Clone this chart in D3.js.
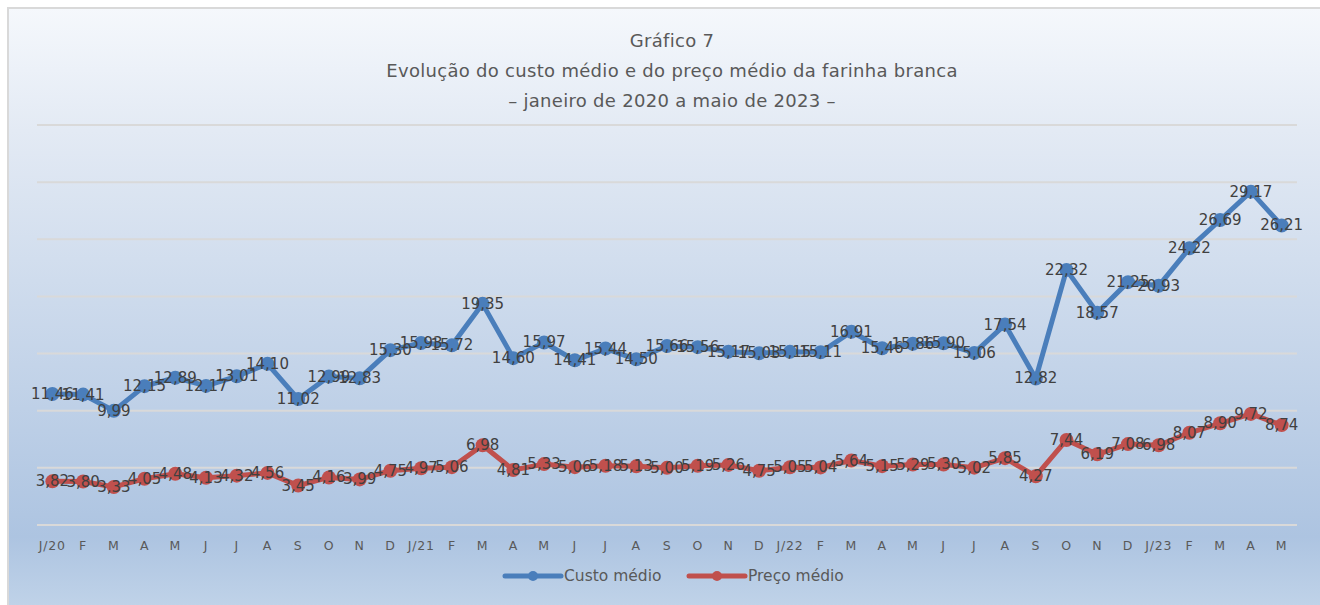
<!DOCTYPE html>
<html>
<head>
<meta charset="utf-8">
<script src="https://cdn.jsdelivr.net/npm/d3@7"></script>
<style>
  body { margin: 0; background: #fff; }
  svg { display: block; font-family: "DejaVu Sans", sans-serif; }
</style>
</head>
<body>
<div id="chart"></div>
<script>
// months Jan/2020 - May/2023
var months = ["J/20","F","M","A","M","J","J","A","S","O","N","D",
              "J/21","F","M","A","M","J","J","A","S","O","N","D",
              "J/22","F","M","A","M","J","J","A","S","O","N","D",
              "J/23","F","M","A","M"];

var custoMedio = [11.46,11.41,9.99,12.15,12.89,12.17,13.01,14.10,11.02,12.99,12.83,15.30,
                  15.93,15.72,19.35,14.60,15.97,14.41,15.44,14.50,15.66,15.56,15.17,15.03,
                  15.15,15.11,16.91,15.46,15.86,15.90,15.06,17.54,12.82,22.32,18.57,21.25,
                  20.93,24.22,26.69,29.17,26.21];

var precoMedio = [3.82,3.80,3.33,4.05,4.48,4.13,4.32,4.56,3.45,4.16,3.99,4.75,
                  4.97,5.06,6.98,4.81,5.33,5.06,5.18,5.13,5.00,5.19,5.26,4.75,
                  5.05,5.04,5.64,5.15,5.29,5.30,5.02,5.85,4.27,7.44,6.19,7.08,
                  6.98,8.07,8.90,9.72,8.74];

var gridTicks = [0,5,10,15,20,25,30,35];

var seriesNames = ["Custo médio","Preço médio"];
var seriesColors = ["#4a7ebb","#c0504d"];

var width = 1320, height = 605;

var svg = d3.select("#chart").append("svg")
  .attr("width", width)
  .attr("height", height);

// background gradient
var defs = svg.append("defs");
var grad = defs.append("linearGradient")
  .attr("id", "bg")
  .attr("x1", 0).attr("y1", 0).attr("x2", 0).attr("y2", 1);
grad.append("stop").attr("offset", "0%").attr("stop-color", "#f5f8fc");
grad.append("stop").attr("offset", "20%").attr("stop-color", "#e3eaf4");
grad.append("stop").attr("offset", "86%").attr("stop-color", "#adc4e1");
grad.append("stop").attr("offset", "100%").attr("stop-color", "#c4d6ea");

svg.append("rect")
  .attr("x", 8).attr("y", 8)
  .attr("width", width + 10).attr("height", height + 10)
  .attr("fill", "url(#bg)")
  .attr("stroke", "#d9d9d9")
  .attr("stroke-width", 2);

// scales
var xScale = d3.scaleBand()
  .domain(d3.range(months.length))
  .range([37, 1297]);

var yScale = d3.scaleLinear()
  .domain([0, 35])
  .range([525, 125]);

function cx(i) { return xScale(i) + xScale.bandwidth() / 2; }

// gridlines
svg.append("g")
  .selectAll("line")
  .data(gridTicks)
  .enter().append("line")
  .attr("x1", 37).attr("x2", 1297)
  .attr("y1", function(d) { return yScale(d); })
  .attr("y2", function(d) { return yScale(d); })
  .attr("stroke", "#d9d9d9")
  .attr("stroke-width", 2);

// x axis labels
var xAxis = svg.append("g")
  .attr("transform", "translate(0,525)")
  .call(d3.axisBottom(xScale).tickSize(0).tickPadding(16)
    .tickFormat(function(i) { return months[i]; }));
xAxis.select(".domain").remove();
xAxis.selectAll("text")
  .attr("font-family", "DejaVu Sans, sans-serif")
  .attr("font-size", 12.5)
  .attr("letter-spacing", 0.8)
  .attr("fill", "#595959");

// title
var titleLines = ["Gráfico 7",
                  "Evolução do custo médio e do preço médio da farinha branca",
                  "– janeiro de 2020 a maio de 2023 –"];
svg.append("g").selectAll("text")
  .data(titleLines)
  .enter().append("text")
  .attr("x", 672)
  .attr("y", function(d, i) { return 47 + i * 30; })
  .attr("text-anchor", "middle")
  .attr("font-size", 18)
  .attr("letter-spacing", 0.3)
  .attr("fill", "#595959")
  .text(function(d) { return d; });

var series = [custoMedio, precoMedio];

var line = d3.line()
  .x(function(d, i) { return cx(i); })
  .y(function(d) { return yScale(d); });

var fmt = function(v) { return d3.format(".2f")(v).replace(".", ","); };

series.forEach(function(values, s) {
  svg.append("path")
    .datum(values)
    .attr("d", line)
    .attr("fill", "none")
    .attr("stroke", seriesColors[s])
    .attr("stroke-width", 5)
    .attr("stroke-linejoin", "round");

  svg.append("g").selectAll("circle")
    .data(values)
    .enter().append("circle")
    .attr("cx", function(d, i) { return cx(i); })
    .attr("cy", function(d) { return yScale(d); })
    .attr("r", 7)
    .attr("fill", seriesColors[s]);
});

// data labels
series.forEach(function(values, s) {
  svg.append("g").selectAll("text")
    .data(values)
    .enter().append("text")
    .attr("x", function(d, i) { return cx(i); })
    .attr("y", function(d) { return yScale(d) + 5; })
    .attr("text-anchor", "middle")
    .attr("font-size", 15)
    .attr("fill", "#404040")
    .text(fmt);
});

// legend
var legend = svg.append("g").attr("transform", "translate(0,576)");
var legendX = [505, 689];
seriesNames.forEach(function(name, s) {
  var g = legend.append("g").attr("transform", "translate(" + legendX[s] + ",0)");
  g.append("line")
    .attr("x1", 0).attr("x2", 56)
    .attr("stroke", seriesColors[s])
    .attr("stroke-width", 5)
    .attr("stroke-linecap", "round");
  g.append("circle").attr("cx", 28).attr("r", 5).attr("fill", seriesColors[s]);
  g.append("text")
    .attr("x", 59).attr("y", 5)
    .attr("font-size", 15.5)
    .attr("fill", "#595959")
    .text(name);
});
</script>
</body>
</html>
